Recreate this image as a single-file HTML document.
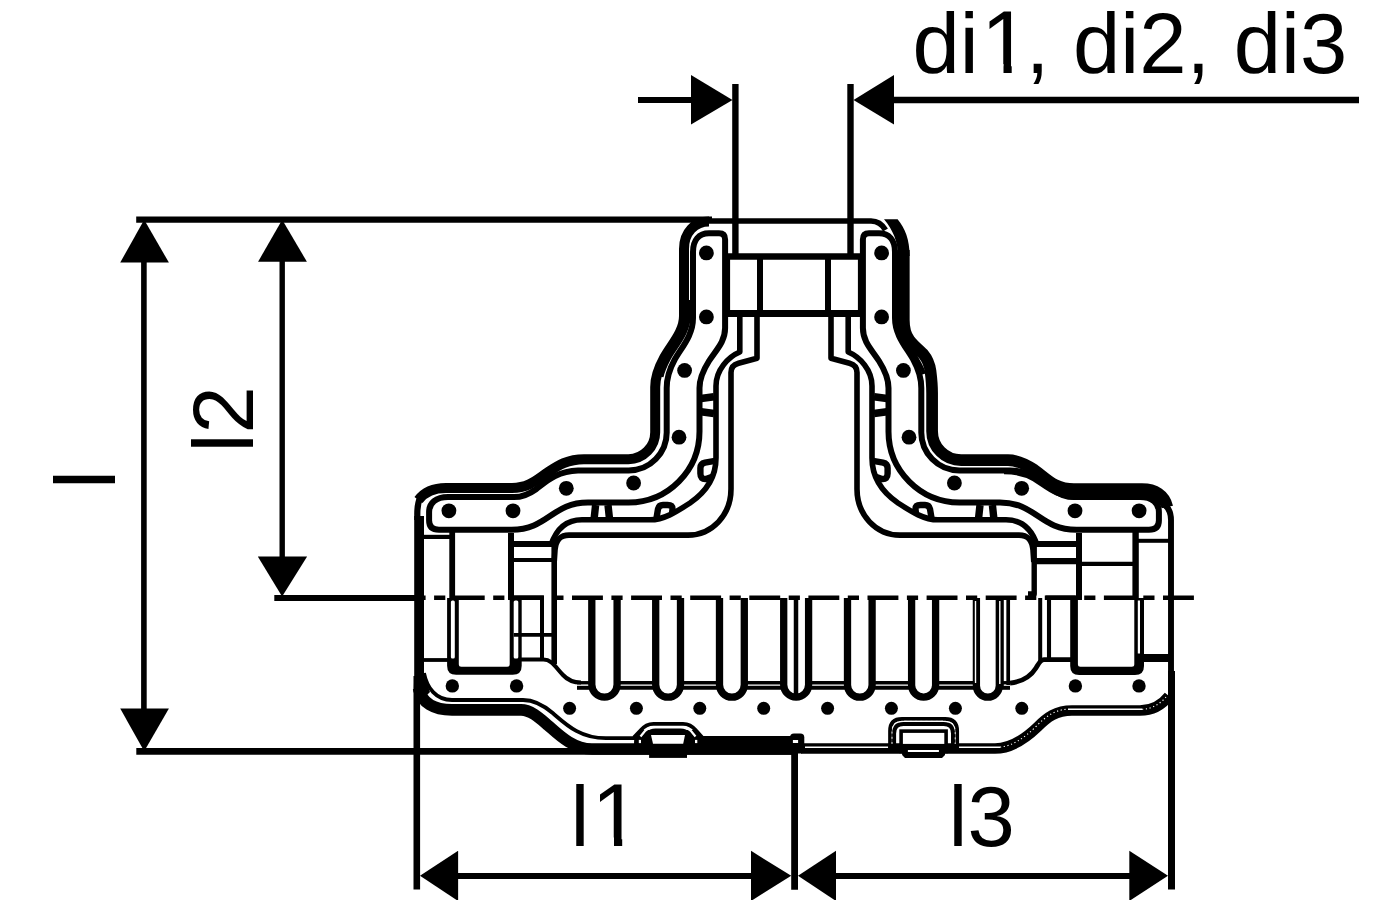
<!DOCTYPE html>
<html lang="en">
<head>
<meta charset="utf-8">
<title>T-piece dimensions</title>
<style>
html,body{margin:0;padding:0;background:#fff;}
body{width:1400px;height:900px;overflow:hidden;}
svg{display:block;}
svg path, svg line{fill:none;stroke:#000;stroke-linecap:butt;stroke-linejoin:round;}
svg text{font-family:"Liberation Sans",Arial,Helvetica,sans-serif;fill:#000;}
</style>
</head>
<body>
<svg width="1400" height="900" viewBox="0 0 1400 900">
<rect x="0" y="0" width="1400" height="900" fill="#fff" stroke="none"/>
<g id="upL">
<path d="M693,252 C693,240 699,233.3 709,233.3 L719,233.3 Q725.1,233.3 725.1,239.5 L725.1,328 C725.1,342 716,350 709,361 C703,370.5 699.5,378 699.5,388 L699.5,431.5 A71,71 0 0 1 628.6,502.6 L588,502.5 C552,502.5 548,529.7 511.5,529.7 L439,529.7 Q429.1,529.7 429.1,520.5 L429.1,512 C429.1,503 436,497 448,497 L514,497.1 C524,497.1 530,493.5 536,489.2 C545,482.5 556,471 578,470.4 L628.6,470.4 A38,38 0 0 0 666.7,431.5 L666.7,388 C666.7,378 669,370 674.5,360 C681,348 693,336 693,318 Z" stroke-width="6" />
<circle cx="706.4" cy="252.9" r="7.4" fill="#000" stroke="none"/>
<circle cx="706.4" cy="316.9" r="7.4" fill="#000" stroke="none"/>
<circle cx="684.6" cy="370.4" r="7.4" fill="#000" stroke="none"/>
<circle cx="679" cy="437.2" r="7.4" fill="#000" stroke="none"/>
<circle cx="633.6" cy="483" r="7.4" fill="#000" stroke="none"/>
<circle cx="566.3" cy="488.3" r="7.4" fill="#000" stroke="none"/>
<circle cx="513" cy="510.8" r="7.4" fill="#000" stroke="none"/>
<circle cx="448.9" cy="510.8" r="7.4" fill="#000" stroke="none"/>
<path d="M739.8,313 V352 C728,357 716,370 716,386 V458 C716,478 706,492 690,503 C676,512 664,519.8 650,519.8 H582 C566,519.8 556,530 551,545" stroke-width="5.6" />
<path d="M757,313 V358.2 L738.5,363.2 Q731,365.2 731,372.5 V489 C731,515 712,535.1 688,535.1 H569 C560,535.1 556,540 555,550 L554.2,562" stroke-width="5.6" />
<path d="M701,398.6 L714,396.8 M701,411.8 L714,413.6" stroke-width="7.6" />
<path d="M715,460.8 L705,462.6 Q700.4,463.6 700.4,468 V473.5 Q700.4,479.5 706,479 L713,476.5" stroke-width="6.4" />
<path d="M656.5,518 L658,509 Q659,505 663,505 H667.5 Q672.5,505 672.5,509 L672,514" stroke-width="6.4" />
<path d="M595.6,505 L594.2,518 M608,505 L609.4,518" stroke-width="7.4" />
</g>
<g id="upR" transform="translate(1588.0,0) scale(-1,1)">
<path d="M693,252 C693,240 699,233.3 709,233.3 L719,233.3 Q725.1,233.3 725.1,239.5 L725.1,328 C725.1,342 716,350 709,361 C703,370.5 699.5,378 699.5,388 L699.5,431.5 A71,71 0 0 1 628.6,502.6 L588,502.5 C552,502.5 548,529.7 511.5,529.7 L439,529.7 Q429.1,529.7 429.1,520.5 L429.1,512 C429.1,503 436,497 448,497 L514,497.1 C524,497.1 530,493.5 536,489.2 C545,482.5 556,471 578,470.4 L628.6,470.4 A38,38 0 0 0 666.7,431.5 L666.7,388 C666.7,378 669,370 674.5,360 C681,348 693,336 693,318 Z" stroke-width="6" />
<circle cx="706.4" cy="252.9" r="7.4" fill="#000" stroke="none"/>
<circle cx="706.4" cy="316.9" r="7.4" fill="#000" stroke="none"/>
<circle cx="684.6" cy="370.4" r="7.4" fill="#000" stroke="none"/>
<circle cx="679" cy="437.2" r="7.4" fill="#000" stroke="none"/>
<circle cx="633.6" cy="483" r="7.4" fill="#000" stroke="none"/>
<circle cx="566.3" cy="488.3" r="7.4" fill="#000" stroke="none"/>
<circle cx="513" cy="510.8" r="7.4" fill="#000" stroke="none"/>
<circle cx="448.9" cy="510.8" r="7.4" fill="#000" stroke="none"/>
<path d="M739.8,313 V352 C728,357 716,370 716,386 V458 C716,478 706,492 690,503 C676,512 664,519.8 650,519.8 H582 C566,519.8 556,530 551,545" stroke-width="5.6" />
<path d="M757,313 V358.2 L738.5,363.2 Q731,365.2 731,372.5 V489 C731,515 712,535.1 688,535.1 H569 C560,535.1 556,540 555,550 L554.2,562" stroke-width="5.6" />
<path d="M701,398.6 L714,396.8 M701,411.8 L714,413.6" stroke-width="7.6" />
<path d="M715,460.8 L705,462.6 Q700.4,463.6 700.4,468 V473.5 Q700.4,479.5 706,479 L713,476.5" stroke-width="6.4" />
<path d="M656.5,518 L658,509 Q659,505 663,505 H667.5 Q672.5,505 672.5,509 L672,514" stroke-width="6.4" />
<path d="M595.6,505 L594.2,518 M608,505 L609.4,518" stroke-width="7.4" />
</g>
<line x1="725" y1="256.5" x2="863" y2="256.5" stroke-width="6.5" />
<line x1="725" y1="313.6" x2="863" y2="313.6" stroke-width="7" />
<line x1="727.6" y1="254" x2="727.6" y2="316" stroke-width="5" />
<line x1="860.4" y1="254" x2="860.4" y2="316" stroke-width="5" />
<line x1="760" y1="256" x2="760" y2="314" stroke-width="6" />
<line x1="828" y1="256" x2="828" y2="314" stroke-width="6" />
<path d="M706,221 H871 C878,221 882,224 885.5,230" stroke-width="5.6" />
<path d="M709,221.5 C695,221.5 684,232 684,249 L684,316 C684,332 671.5,344.5 664.3,357.5 C658,369 655.2,377 655.2,387 L655.2,431.8 A27,27 0 0 1 628.4,459.2 L584,459.2 C566,459.2 556,467 546.5,473.2 C536,480.5 528,488 512,488 L446,488 C432,488 424,492.5 418.5,500" stroke-width="10" />
<path d="M420.5,497 C418,502 417.3,507 417.3,514 L417.3,520" stroke-width="6.2" />
<line x1="419.1" y1="516" x2="419.1" y2="682" stroke-width="9.8" />
<polygon points="414.2,676 424,676 430,692 421,701 413.7,692" fill="#000" stroke="none"/>
<path d="M689.3,300 V315 C689.3,333 677,345.5 669.5,358.5 C665.5,366 663,372 662,377" stroke-width="3" />
<path d="M884,219.3 L897.6,219.3 C905,228 909.65,240 909.65,256 L898,256 C898,242 893,230 884,219.3 Z" style="fill:#000;stroke:none"/>
<path d="M903.8,250 V320 C903.8,330 905.5,335 909.5,340.3 C913,345 919,350 923.2,354 C927,358.5 929.5,364 930.5,371 C931.5,379 932.1,386 932.1,393 V431.2 A29,29 0 0 0 961.1,460.2 H1008 C1018,460.2 1026,464.5 1034.4,470 C1046,478 1054,489.2 1074,489.2 L1142,489.2 C1155,489.2 1164.5,495 1167.3,507" stroke-width="11.7" />
<path d="M899.3,250 V322 C899.3,337 910.5,347 917.5,360 C921,366 923,370 924,374" stroke-width="4" />
<path d="M1004,471.2 C1020,471.2 1028,475 1034.4,478.6 C1046,485.5 1056,496.6 1078,496.6" stroke-width="6" />
<path d="M898,252 L898,320" stroke-width="6" />
<path d="M1076,493.5 H1142 C1152,493.5 1158,498 1160,504" stroke-width="6" />
<path d="M1160,502 C1167,505 1171,511 1171,520 L1171,672" stroke-width="5.9" />
<line x1="1171.5" y1="671" x2="1171.5" y2="889.4" stroke-width="7" />
<line x1="423" y1="536.9" x2="452" y2="536.9" stroke-width="4.2" />
<line x1="452.2" y1="532" x2="452.2" y2="600" stroke-width="5.8" />
<line x1="511" y1="533" x2="511" y2="600" stroke-width="6" />
<line x1="511" y1="543.9" x2="553" y2="543.9" stroke-width="6" />
<line x1="513" y1="560" x2="553" y2="560" stroke-width="3.8" />
<line x1="554.2" y1="544" x2="554.2" y2="664" stroke-width="5.6" />
<line x1="1138" y1="540.8" x2="1169" y2="540.8" stroke-width="4" />
<line x1="1135.6" y1="532" x2="1135.6" y2="600" stroke-width="6.4" />
<line x1="1079" y1="533" x2="1079" y2="600" stroke-width="6" />
<line x1="1035" y1="544" x2="1077" y2="544" stroke-width="5.8" />
<line x1="1035" y1="561.1" x2="1077" y2="561.1" stroke-width="6.2" />
<line x1="1082" y1="563.9" x2="1133" y2="563.9" stroke-width="4.3" />
<path d="M1034.2,544 V594 H1028" stroke-width="5.4" />
<line x1="136.2" y1="219.6" x2="712" y2="219.6" stroke-width="6.4" />
<line x1="274.3" y1="598" x2="416" y2="598" stroke-width="6" />
<line x1="394.7" y1="597.8" x2="1194" y2="597.8" stroke-width="4.4" stroke-dasharray="30.9 8.5 11.2 8.5"/>
<path d="M447.1,598 V665.7 Q447.1,674.7 456.1,674.7 H512.7 Q521.7,674.7 521.7,665.7 V598 H509.7 V664.2 Q509.7,666.7 507.2,666.7 H461.3 Q458.8,666.7 458.8,664.2 V598 Z" style="fill:#000;stroke:none"/>
<rect x="450.9" y="600.5" width="3.9" height="58" rx="1.5" fill="#fff" stroke="none"/>
<rect x="513.7" y="600.5" width="4.6" height="58" rx="1.5" fill="#fff" stroke="none"/>
<line x1="423" y1="660" x2="449" y2="660" stroke-width="3.8" />
<path d="M520.6,659.5 H543.4 C552,659.5 556,668 563,675 C568,680.5 573,682.5 581,682.5" stroke-width="4.2" />
<line x1="542" y1="598" x2="542" y2="660" stroke-width="4" />
<line x1="513.7" y1="634.9" x2="556.6" y2="634.9" stroke-width="3.8" />
<line x1="511" y1="597.8" x2="544" y2="597.8" stroke-width="4.6" />
<line x1="1040.2" y1="598" x2="1040.2" y2="661" stroke-width="4" />
<line x1="1049" y1="598" x2="1049" y2="658" stroke-width="4.1" />
<path d="M1070.2,598 V665.9 Q1070.2,674.9 1079.2,674.9 H1135 Q1144,674.9 1144,665.9 V598 H1134.3 V664.2 Q1134.3,666.7 1131.8,666.7 H1080.4 Q1077.9,666.7 1077.9,664.2 V598 Z" style="fill:#000;stroke:none"/>
<rect x="1137.8" y="600.5" width="2.2" height="53" fill="#fff" stroke="none"/>
<line x1="1138" y1="658" x2="1169" y2="658" stroke-width="8" />
<path d="M1075,659.6 H1044 C1040,659.8 1038.5,664 1036,668 C1031,676 1024,681.5 1010,683.2" stroke-width="4.8" />
<line x1="1045.6" y1="597.8" x2="1081.6" y2="597.8" stroke-width="4.6" />
<path d="M591.8,598 V684.55 A12.650000000000034,12.650000000000034 0 0 0 617.1,684.55 V598" stroke-width="7.3" />
<path d="M655.7,598 V684.8000000000001 A12.399999999999977,12.399999999999977 0 0 0 680.5,684.8000000000001 V598" stroke-width="7.3" />
<path d="M719.5,598 V684.8000000000001 A12.399999999999977,12.399999999999977 0 0 0 744.3,684.8000000000001 V598" stroke-width="7.3" />
<path d="M783.7,598 V684.75 A12.449999999999989,12.449999999999989 0 0 0 808.6,684.75 V598" stroke-width="7.3" />
<path d="M847.5,598 V684.9000000000001 A12.300000000000011,12.300000000000011 0 0 0 872.1,684.9000000000001 V598" stroke-width="7.3" />
<path d="M911.6,598 V685.2 A12.0,12.0 0 0 0 935.6,685.2 V598" stroke-width="7.3" />
<path d="M976.4,598 V685.75 A11.449999999999989,11.449999999999989 0 0 0 999.3,685.75 V598" stroke-width="7.3" />
<line x1="796" y1="598" x2="796" y2="696" stroke-width="4.5" />
<line x1="1002.6" y1="600" x2="1002.6" y2="686" stroke-width="2.4" />
<line x1="1008.2" y1="598" x2="1008.2" y2="685" stroke-width="3.7" />
<path d="M975.5,601 V683 M999.8,601 V684" style="stroke:#fff" stroke-width="1.4"/>
<line x1="577" y1="682.75" x2="589" y2="682.75" stroke-width="3.4" />
<line x1="577" y1="687.8" x2="589" y2="687.8" stroke-width="4" />
<line x1="619.1" y1="682.75" x2="653.7" y2="682.75" stroke-width="3.4" />
<line x1="619.1" y1="687.8" x2="653.7" y2="687.8" stroke-width="4" />
<line x1="682.5" y1="682.75" x2="717.5" y2="682.75" stroke-width="3.4" />
<line x1="682.5" y1="687.8" x2="717.5" y2="687.8" stroke-width="4" />
<line x1="746.3" y1="682.75" x2="781.7" y2="682.75" stroke-width="3.4" />
<line x1="746.3" y1="687.8" x2="781.7" y2="687.8" stroke-width="4" />
<line x1="810.6" y1="682.75" x2="845.5" y2="682.75" stroke-width="3.4" />
<line x1="810.6" y1="687.8" x2="845.5" y2="687.8" stroke-width="4" />
<line x1="874.1" y1="682.75" x2="909.6" y2="682.75" stroke-width="3.4" />
<line x1="874.1" y1="687.8" x2="909.6" y2="687.8" stroke-width="4" />
<line x1="937.6" y1="682.75" x2="974.4" y2="682.75" stroke-width="3.4" />
<line x1="937.6" y1="687.8" x2="974.4" y2="687.8" stroke-width="4" />
<line x1="1002" y1="682.75" x2="1010" y2="682.75" stroke-width="3.4" />
<line x1="1002" y1="687.8" x2="1010" y2="687.8" stroke-width="4" />
<circle cx="569.6" cy="708.3" r="6.5" fill="#000" stroke="none"/>
<circle cx="636.4" cy="708.3" r="6.5" fill="#000" stroke="none"/>
<circle cx="699.8" cy="708.3" r="6.5" fill="#000" stroke="none"/>
<circle cx="763.7" cy="708.3" r="6.5" fill="#000" stroke="none"/>
<circle cx="827.6" cy="708.3" r="6.5" fill="#000" stroke="none"/>
<circle cx="891.4" cy="708.3" r="6.5" fill="#000" stroke="none"/>
<circle cx="955.4" cy="708.3" r="6.5" fill="#000" stroke="none"/>
<circle cx="1021.8" cy="708.3" r="6.5" fill="#000" stroke="none"/>
<circle cx="452.3" cy="685.9" r="6.7" fill="#000" stroke="none"/>
<circle cx="516.6" cy="685.9" r="6.7" fill="#000" stroke="none"/>
<circle cx="1075.4" cy="685.9" r="6.7" fill="#000" stroke="none"/>
<circle cx="1139.0" cy="685.9" r="6.7" fill="#000" stroke="none"/>
<path d="M424,673 C427,688 436,700 452,700 H523 C535,700 544,705.5 553,713.3 C566,724.5 580,738.2 606,738.2 H640" stroke-width="3.8" />
<path d="M418.5,688 C421.5,703 434,709.9 452,709.9 H521 C531,709.9 540,718.4 548,725.3 C557,733 572,749 592,749 H798" stroke-width="11.6" />
<line x1="136.3" y1="751.4" x2="798" y2="751.4" stroke-width="6.6" />
<rect x="640" y="736" width="160" height="12" fill="#000" stroke="none"/>
<path d="M801,748.5 H995 C1010,748.5 1024,740 1037.5,727 C1047,717.5 1056,710.5 1072,710.5 H1140 C1152,710.5 1162,705 1169,696" stroke-width="10.6" />
<path d="M805,747.3 H888.2 M959,747.3 H1000" style="stroke:#fff" stroke-width="1.5"/>
<path d="M1068,709.3 H1142" style="stroke:#fff" stroke-width="1.5"/>
<path d="M1000,747.1 C1012,746 1024,738.5 1036.5,726 C1046,716 1056,709.3 1068,709.3" style="stroke:#fff" stroke-width="1.1" stroke-dasharray="1.2 2.6"/>
<path d="M1142,709.3 C1152,709 1160,704 1166,697" style="stroke:#fff" stroke-width="1.1" stroke-dasharray="1.2 2.6"/>
<polygon points="634,744 634.3,736.5 641,730 694.5,730 701.7,736.5 702,744" fill="#000" stroke="none"/>
<path d="M633.8,737.6 L640.5,730.6 Q646,723.9 653.5,723.9 H683 Q690.5,723.9 696,730.6 L702.2,737.6" stroke-width="3.9" />
<path d="M640.5,736.5 L645,731 Q648.5,727.3 654,727.3 H682 Q687.5,727.3 691,731 L695.5,736.5" style="stroke:#fff" stroke-width="2.2"/>
<path d="M646,738 L648.5,734.5 Q651,731.6 655.5,731.6 H680.5 Q685,731.6 687.5,734.5 L690,738" stroke-width="6.2" />
<rect x="649.1" y="743" width="37.9" height="14.9" fill="#000" stroke="none"/>
<polygon points="651,734.9 685,734.9 683.2,743.7 653,743.7" fill="#fff" stroke="none"/>
<rect x="638.8" y="739.9" width="2.2" height="3.2" fill="#fff" stroke="none"/>
<rect x="695" y="739.9" width="2.3" height="3.2" fill="#fff" stroke="none"/>
<path d="M890,750 V731 Q890,718.9 902,718.9 H945.2 Q957.2,718.9 957.2,731 V750" stroke-width="3.7" />
<path d="M894.1,750 V733.5 Q894.1,724.1 903.5,724.1 H943.7 Q953,724.1 953,733.5 V750" stroke-width="4" />
<path d="M892,744 V732 Q892,721.4 902.5,721.4 H944.7 Q955.2,721.4 955.2,732 V744" style="stroke:#fff" stroke-width="0.9" stroke-dasharray="2 3.2"/>
<path d="M904,721.4 H943" style="stroke:#fff" stroke-width="1.1"/>
<rect x="899.3" y="729.3" width="48.6" height="24" fill="#000" stroke="none"/>
<rect x="902.9" y="732.9" width="41.4" height="11" fill="#fff" stroke="none"/>
<polygon points="902.1,745 945,745 945,755 942,757.9 905,757.9 902.1,755" fill="#000" stroke="none"/>
<rect x="907.9" y="750" width="31" height="2" fill="#fff" stroke="none"/>
<rect x="790" y="733.6" width="14.3" height="20" rx="4" fill="#000" stroke="none"/>
<rect x="792.9" y="740" width="5.2" height="3" fill="#fff" stroke="none"/>
<line x1="416.8" y1="676" x2="416.8" y2="889.6" stroke-width="6.6" />
<line x1="794.6" y1="745" x2="794.6" y2="889.7" stroke-width="6.8" />
<line x1="735.4" y1="84" x2="735.4" y2="257" stroke-width="6.4" />
<line x1="850.5" y1="84" x2="850.5" y2="257" stroke-width="6.4" />
<line x1="638" y1="100" x2="695" y2="100" stroke-width="6" />
<line x1="890" y1="100" x2="1359" y2="100" stroke-width="6.4" />
<polygon points="691,75 732.5,100 691,124.5" fill="#000" stroke="none"/>
<polygon points="894,75 853.5,100 894,124.5" fill="#000" stroke="none"/>
<line x1="143.9" y1="255" x2="143.9" y2="715" stroke-width="5.6" />
<polygon points="144.2,219.8 120.2,262.6 168.9,262.6" fill="#000" stroke="none"/>
<polygon points="144.2,751.2 120.2,708.6 168.9,708.6" fill="#000" stroke="none"/>
<line x1="282.2" y1="255" x2="282.2" y2="562" stroke-width="5.4" />
<polygon points="282.2,219.8 258.1,261.7 306.9,261.7" fill="#000" stroke="none"/>
<polygon points="282.1,596.5 257.8,556.5 307.1,556.5" fill="#000" stroke="none"/>
<line x1="455" y1="876" x2="753" y2="876" stroke-width="6.1" />
<polygon points="420,875.8 458.1,850.7 458.1,901" fill="#000" stroke="none"/>
<polygon points="791.2,875.8 751,850.8 751,901" fill="#000" stroke="none"/>
<line x1="834" y1="876" x2="1131" y2="876" stroke-width="6.1" />
<polygon points="798,875.8 836,850.8 836,901" fill="#000" stroke="none"/>
<polygon points="1168,875.8 1129.3,850.7 1129.3,901" fill="#000" stroke="none"/>

<text x="912.4" y="73" font-size="85">di<tspan dx="2.5" font-size="88.4">1</tspan><tspan dx="-4.4">, di2, di3</tspan></text>
<rect x="986" y="64" width="17.5" height="11" fill="#fff" stroke="none"/>
<rect x="1011.7" y="64" width="16" height="11" fill="#fff" stroke="none"/>
<text transform="translate(115,489) rotate(-90)" font-size="85">l</text>
<text transform="translate(252.8,452.5) rotate(-90)" font-size="85">l2</text>
<text x="570.6" y="846.3" font-size="85">l<tspan dx="2" font-size="88.4">1</tspan></text>
<rect x="596.5" y="837.5" width="17.5" height="11.5" fill="#fff" stroke="none"/>
<rect x="622.2" y="837.5" width="16.5" height="11.5" fill="#fff" stroke="none"/>
<text x="948.6" y="846.3" font-size="85">l3</text>

</svg>
</body>
</html>
